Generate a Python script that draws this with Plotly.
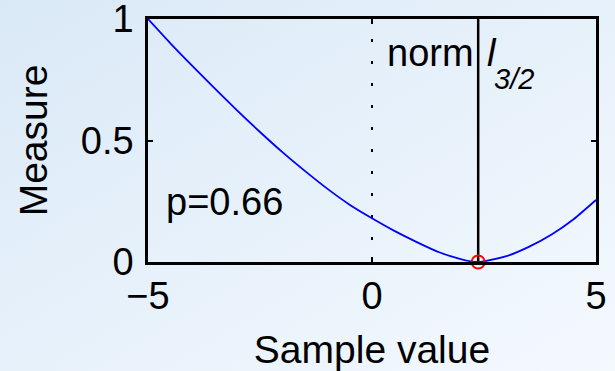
import urllib.parse
import plotly.graph_objects as go

# Data
sample_x = [-5.0, -4.5, -4.0, -3.5, -3.0, -2.5, -2.0, -1.5, -1.0, -0.5, 0.0,
            0.5, 1.0, 1.5, 2.0, 2.2, 2.37, 2.5, 3.0, 3.5, 4.0, 4.5, 5.0]
measure_y = [1.000, 0.900, 0.805, 0.712, 0.622, 0.535, 0.452, 0.375, 0.302, 0.236, 0.180,
             0.128, 0.082, 0.040, 0.011, 0.003, 0.000, 0.003, 0.024, 0.062, 0.112, 0.176, 0.255]
min_x = [2.37]
min_y = [0.0]
vline_x = [2.37, 2.37]
vline_y = [0.0, 1.0]
zero_x = [0.0, 0.0]
zero_y = [0.0, 1.0]
x_ticks = [-5, 0, 5]
x_ticklabels = ["\u22125", "0", "5"]
y_ticks = [0, 0.5, 1]
y_ticklabels = ["0", "0.5", "1"]

FONT = "Liberation Sans, Arial, sans-serif"
BG = "#e8f2fb"

svg = ('<svg xmlns="http://www.w3.org/2000/svg" width="615" height="371">'
       '<defs><linearGradient id="g" x1="0" y1="0" x2="1" y2="1">'
       '<stop offset="0" stop-color="#dae9f7"/><stop offset="1" stop-color="#f4f9fe"/>'
       '</linearGradient></defs><rect width="615" height="371" fill="url(#g)"/></svg>')
bg_src = "data:image/svg+xml;charset=utf-8," + urllib.parse.quote(svg)

fig = go.Figure()
fig.add_trace(go.Scatter(x=zero_x, y=zero_y, mode="lines",
                         line=dict(color="black", width=2, dash="3px,19px"),
                         hoverinfo="skip", showlegend=False))
fig.add_trace(go.Scatter(x=vline_x, y=vline_y, mode="lines",
                         line=dict(color="black", width=2.5),
                         hoverinfo="skip", showlegend=False))
fig.add_trace(go.Scatter(x=sample_x, y=measure_y, mode="lines",
                         line=dict(color="#0000ff", width=1.8, shape="spline", smoothing=0.6),
                         showlegend=False))
fig.add_trace(go.Scatter(x=min_x, y=min_y, mode="markers",
                         marker=dict(symbol="circle-open", size=13, color="#ff0000",
                                     line=dict(width=2, color="#ff0000")),
                         showlegend=False, cliponaxis=False))

fig.add_annotation(x=-4.64, y=0.245, text="p=0.66", showarrow=False,
                   xanchor="left", yanchor="middle", font=dict(size=38, color="black", family=FONT))
fig.add_annotation(x=0.28, y=0.86, text="norm", showarrow=False,
                   xanchor="left", yanchor="middle", font=dict(size=38, color="black", family=FONT))
fig.add_annotation(x=2.53, y=0.86, text="<i>l</i>", showarrow=False,
                   xanchor="left", yanchor="middle", font=dict(size=38, color="black", family=FONT))
fig.add_annotation(x=2.68, y=0.755, text="<i>3/2</i>", showarrow=False,
                   xanchor="left", yanchor="middle", font=dict(size=29, color="black", family=FONT))

axis_common = dict(showgrid=False, zeroline=False, showline=True, linecolor="black",
                   linewidth=2.5, mirror="ticks", ticks="inside", ticklen=5, tickwidth=2,
                   tickcolor="black", ticklabeloverflow="allow", automargin=False,
                   tickfont=dict(size=38, color="black", family=FONT))

fig.update_xaxes(range=[-5, 5], tickvals=x_ticks, ticktext=x_ticklabels,
                 title=dict(text="Sample value", font=dict(size=39, color="black", family=FONT), standoff=20),
                 ticklabelstandoff=-1, **axis_common)
fig.update_yaxes(range=[0, 1], tickvals=y_ticks, ticktext=y_ticklabels,
                 title=dict(text="Measure", font=dict(size=39, color="black", family=FONT), standoff=22),
                 ticklabelstandoff=4, **axis_common)

fig.update_layout(width=615, height=371, margin=dict(l=148, r=19, t=19, b=109),
                  paper_bgcolor=BG, plot_bgcolor="rgba(0,0,0,0)",
                  font=dict(family=FONT, color="black"),
                  images=[dict(source=bg_src, xref="paper", yref="paper",
                               x=-148 / 448, y=1 + 19 / 243, sizex=615 / 448, sizey=371 / 243,
                               xanchor="left", yanchor="top", sizing="stretch", layer="below")])

fig.write_html("out.html", config={"displayModeBar": False},
               post_script="document.body.style.margin='0';document.body.style.background='%s';" % BG)
